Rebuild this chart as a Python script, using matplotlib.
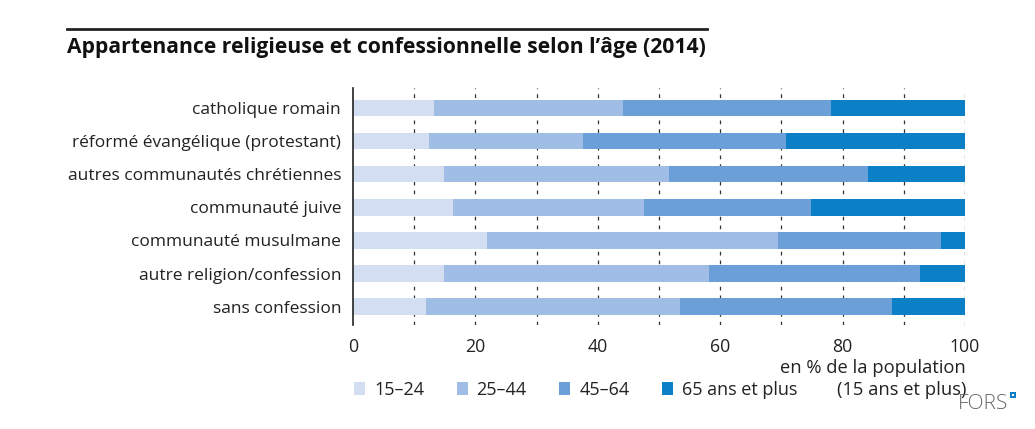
import matplotlib
matplotlib.use("Agg")
import matplotlib.pyplot as plt
from matplotlib.patches import Rectangle, Patch
from matplotlib.lines import Line2D

plt.rcParams['font.family'] = ['Open Sans', 'DejaVu Sans']

categories = ["catholique romain", "réformé évangélique (protestant)",
              "autres communautés chrétiennes", "communauté juive",
              "communauté musulmane", "autre religion/confession", "sans confession"]
age_groups = ["15–24", "25–44", "45–64", "65 ans et plus"]
s15_24 = [13.2, 12.4, 14.9, 16.3, 21.9, 14.9, 12.0]
s25_44 = [30.9, 25.2, 36.7, 31.2, 47.5, 43.3, 41.4]
s45_64 = [34.0, 33.2, 32.5, 27.3, 26.7, 34.5, 34.6]
s65 = [21.9, 29.2, 15.9, 25.2, 3.9, 7.3, 12.0]
xticks = [0, 20, 40, 60, 80, 100]
colors = ["#d3def3", "#a0bde6", "#6b9fd7", "#0c80c6"]

fig = plt.figure(figsize=(10.35, 4.29), dpi=100)
ax = fig.add_axes([353/1035, 1-325/429, 612/1035, (325-88)/429])

series = [s15_24, s25_44, s45_64, s65]
y = list(range(len(categories)))
left = [0.0]*len(categories)
for vals, c, lab in zip(series, colors, age_groups):
    ax.barh(y, vals, left=left, height=0.5, color=c, label=lab, zorder=2, linewidth=0)
    left = [l+v for l, v in zip(left, vals)]

ax.set_xlim(0, 100)
ax.set_ylim(6.55, -0.6)
ax.set_yticks(y)
ax.set_yticklabels(categories, fontsize=12.55, color="#222222")
ax.set_xticks(xticks)
ax.set_xticklabels([str(t) for t in xticks], fontsize=12.7, color="#222222")
ax.tick_params(axis='both', length=0)
ax.tick_params(axis='x', pad=9)
ax.tick_params(axis='y', pad=8.6)
for g in range(10, 101, 10):
    ax.axvline(g, color="#333333", lw=0.9, ls=(0, (3, 4)), zorder=1)
for s in ["top", "right", "bottom"]:
    ax.spines[s].set_visible(False)
ax.spines["left"].set_color("#222222")
ax.spines["left"].set_linewidth(1.2)

fig.text(67/1035, 1-47/429, "Appartenance religieuse et confessionnelle selon l’âge (2014)",
         fontsize=15.2, fontweight="bold", ha="left", va="center", color="#111111")
fig.add_artist(Line2D([67/1035, 707/1035], [1-29/429, 1-29/429], color="#222222", lw=2))

fig.text(966/1035, 1-368/429, "en % de la population", fontsize=13.2, ha="right", va="center", color="#222222")
fig.text(966/1035, 1-390/429, "(15 ans et plus)", fontsize=13.2, ha="right", va="center", color="#222222")

handles = [Patch(facecolor=c, edgecolor='none') for c in colors]
fig.legend(handles, age_groups, loc="center left", bbox_to_anchor=(338/1035, 1-390/429),
           ncol=4, frameon=False, fontsize=13, handlelength=0.6, handleheight=0.75,
           handletextpad=0.5, columnspacing=1.8, labelcolor="#222222")

fig.text(1008/1035, 1-404/429, "FORS", fontsize=15, fontweight="light", ha="right", va="center",
         color="#666666")
fig.add_artist(Rectangle((1010/1035, 1-398/429), 6/1035, 6/429, facecolor="#0c80c6",
                         edgecolor="none", transform=fig.transFigure))
fig.add_artist(Rectangle((1012/1035, 1-396/429), 2/1035, 2/429, facecolor="white",
                         edgecolor="none", transform=fig.transFigure))

fig.savefig("out.png", dpi=100)
